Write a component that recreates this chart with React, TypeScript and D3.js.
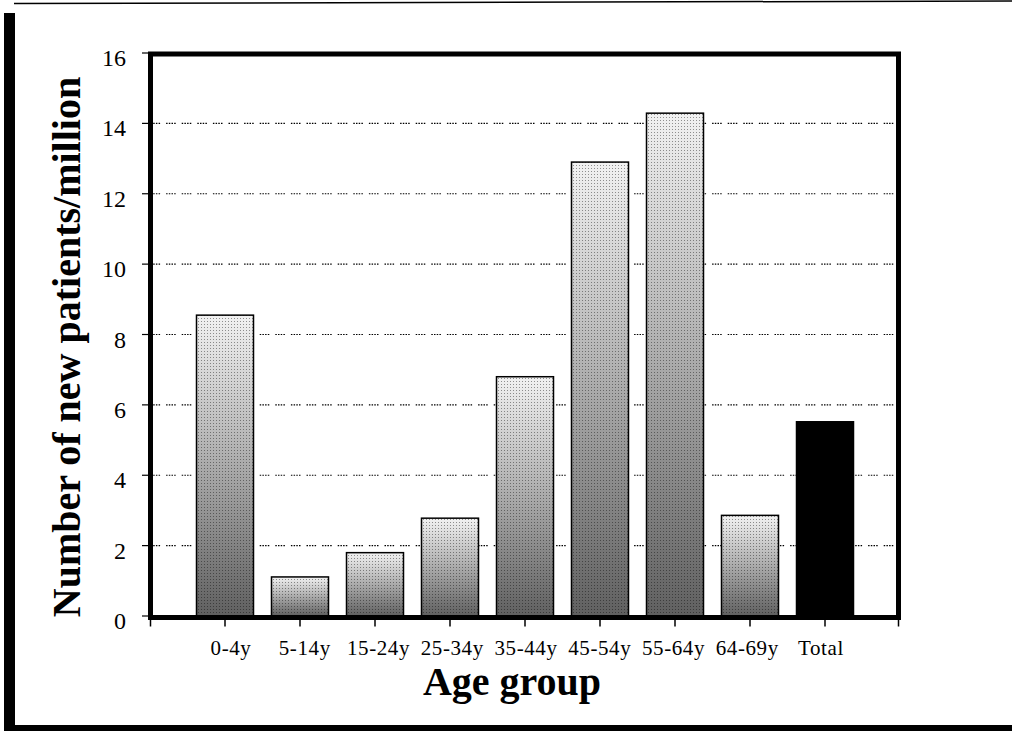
import React from 'react';
import * as d3 from 'd3';

// Incidence of new patients per million, by age group
const categories = ['0-4y', '5-14y', '15-24y', '25-34y', '35-44y', '45-54y', '55-64y', '64-69y', 'Total'];
const values = [8.55, 1.11, 1.8, 2.78, 6.8, 12.9, 14.29, 2.86, 5.52];
const yTicks = [0, 2, 4, 6, 8, 10, 12, 14, 16];
const gridValues = [2, 4, 6, 8, 10, 12, 14];

const W = 1012;
const H = 731;
const FONT = '"Liberation Serif", "Times New Roman", serif';

export default function App() {
  const x = d3
    .scaleBand<string>()
    .domain(categories)
    .range([187.5, 862.5])
    .paddingInner(0.24)
    .paddingOuter(0.12);
  const xLabel = d3.scalePoint<string>().domain(categories).range([231, 821]);
  const y = d3.scaleLinear().domain([0, 16]).range([616, 53]);

  const plotLeft = 150.5;
  const plotRight = 898.5;
  const plotTop = y(16) + 1;
  const plotBottom = y(0) + 1.5;

  const centers = categories.map((c) => (x(c) ?? 0) + x.bandwidth() / 2);
  const xTickPos = [plotLeft, ...centers, plotRight];

  return (
    <svg
      width={W}
      height={H}
      style={{position: 'absolute', left: 0, top: 0, background: '#fff'}}
      fontFamily={FONT}
    >
      <defs>
        <linearGradient id="barGrad" x1="0" y1="0" x2="0" y2="1">
          <stop offset="0" stopColor="#f2f2f2" />
          <stop offset="0.45" stopColor="#b2b2b2" />
          <stop offset="1" stopColor="#606060" />
        </linearGradient>
        <pattern id="stipple" width="3" height="3" patternUnits="userSpaceOnUse">
          <rect x="0" y="0" width="1" height="1" fill="#000" fillOpacity="0.4" />
        </pattern>
      </defs>

      {/* outer frame */}
      <line x1={14} y1={3.5} x2={W} y2={1} stroke="#000" strokeWidth={1.5} />
      <rect x={4} y={13} width={11} height={H - 13} fill="#000" />
      <rect x={4} y={725} width={W - 4} height={6} fill="#000" />

      {/* gridlines */}
      {gridValues.map((v) => (
        <line
          key={v}
          x1={plotLeft}
          x2={plotRight}
          y1={y(v)}
          y2={y(v)}
          stroke="#000"
          strokeWidth={1.2}
          strokeDasharray="1.5 1.2 1.5 1.2 1.5 1.2 1.5 6"
        />
      ))}

      {/* bars */}
      {categories.map((c, i) => {
        const bx = x(c) ?? 0;
        const by = y(values[i]);
        const bh = y(0) - by;
        const isTotal = c === 'Total';
        return (
          <g key={c}>
            <rect
              x={bx}
              y={by}
              width={x.bandwidth()}
              height={bh}
              fill={isTotal ? '#000' : 'url(#barGrad)'}
              stroke="#000"
              strokeWidth={1.5}
            />
            {!isTotal && (
              <rect x={bx} y={by} width={x.bandwidth()} height={bh} fill="url(#stipple)" />
            )}
          </g>
        );
      })}

      {/* plot frame */}
      <rect
        x={plotLeft}
        y={plotTop}
        width={plotRight - plotLeft}
        height={plotBottom - plotTop}
        fill="none"
        stroke="#000"
        strokeWidth={5}
      />

      {/* y ticks and labels */}
      {yTicks.map((t) => (
        <g key={t}>
          <line x1={142} x2={plotLeft} y1={y(t)} y2={y(t)} stroke="#000" strokeWidth={1.2} />
          <text x={126} y={y(t) + 13} textAnchor="end" fontSize={24} fill="#000">
            {t}
          </text>
        </g>
      ))}

      {/* x ticks */}
      {xTickPos.map((p, i) => (
        <line key={i} x1={p} x2={p} y1={plotBottom} y2={plotBottom + 9} stroke="#000" strokeWidth={1.5} />
      ))}

      {/* x labels */}
      {categories.map((c) => (
        <text
          key={c}
          x={xLabel(c)}
          y={655}
          textAnchor="middle"
          fontSize={21}
          letterSpacing={0.6}
          fill="#000"
        >
          {c}
        </text>
      ))}

      {/* axis titles */}
      <text x={512} y={695} textAnchor="middle" fontSize={40} fontWeight="bold" fill="#000">
        Age group
      </text>
      <text
        transform="translate(80,347) rotate(-90)"
        textAnchor="middle"
        fontSize={40}
        fontWeight="bold"
        fill="#000"
      >
        Number of new patients/million
      </text>
    </svg>
  );
}
